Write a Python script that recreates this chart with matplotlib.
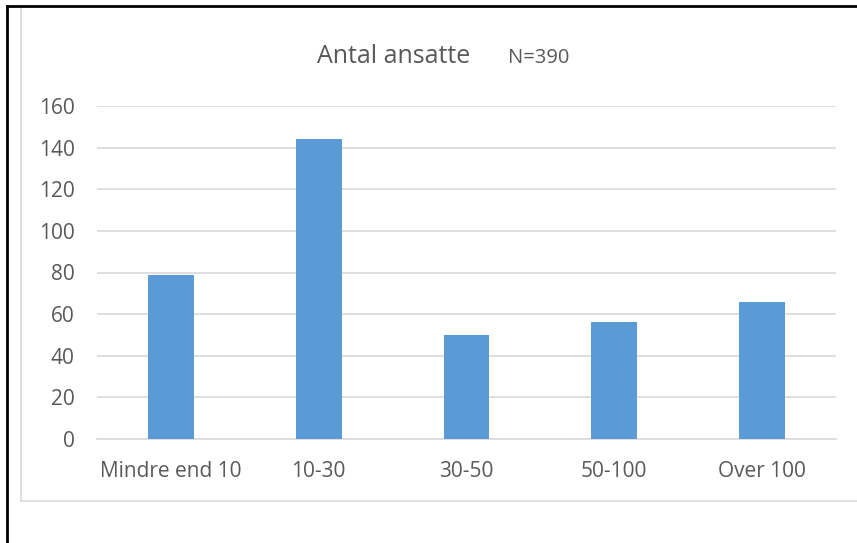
import matplotlib.pyplot as plt
from matplotlib.lines import Line2D

categories = ['Mindre end 10', '10-30', '30-50', '50-100', 'Over 100']
values = [79, 144, 50, 56, 66]
yTicks = [0, 20, 40, 60, 80, 100, 120, 140, 160]

plt.rcParams['font.family'] = ['Open Sans', 'DejaVu Sans']

W, H = 857, 543
fig = plt.figure(figsize=(W / 100, H / 100), dpi=100)
ax = fig.add_axes([97 / W, 1 - 439 / H, (836 - 97) / W, (439 - 106) / H])

ax.bar(range(len(categories)), values, width=0.31, color='#5B9BD5', zorder=3)
ax.set_xlim(-0.5, len(categories) - 0.5)
ax.set_ylim(0, 160)
ax.set_yticks(yTicks)
ax.set_xticks(range(len(categories)))
ax.set_xticklabels(categories)
ax.grid(axis='y', color='#D9D9D9', linewidth=1.2, zorder=0)
for s in ['top', 'right', 'left']:
    ax.spines[s].set_visible(False)
ax.spines['bottom'].set_color('#D9D9D9')
ax.spines['bottom'].set_linewidth(1.2)
ax.tick_params(length=0, labelsize=15, labelcolor='#595959')
ax.tick_params(axis='x', pad=16)
ax.tick_params(axis='y', pad=16)

fig.text(394 / W, 1 - 63 / H, 'Antal ansatte', ha='center', va='baseline', fontsize=18, color='#595959')
fig.text(539 / W, 1 - 63 / H, 'N=390', ha='center', va='baseline', fontsize=14.5, color='#595959')

# grey chart frame
fig.add_artist(Line2D([21 / W, 21 / W], [1 - 8 / H, 1 - 501 / H], color='#D9D9D9', lw=1.2))
fig.add_artist(Line2D([21 / W, 1], [1 - 501 / H, 1 - 501 / H], color='#D9D9D9', lw=1.2))
# black outer border
fig.add_artist(Line2D([7 / W, 7 / W], [0, 1 - 6 / H], color='black', lw=2))
fig.add_artist(Line2D([7 / W, 1], [1 - 6 / H, 1 - 6 / H], color='black', lw=2))

fig.savefig('out.png', dpi=100)
